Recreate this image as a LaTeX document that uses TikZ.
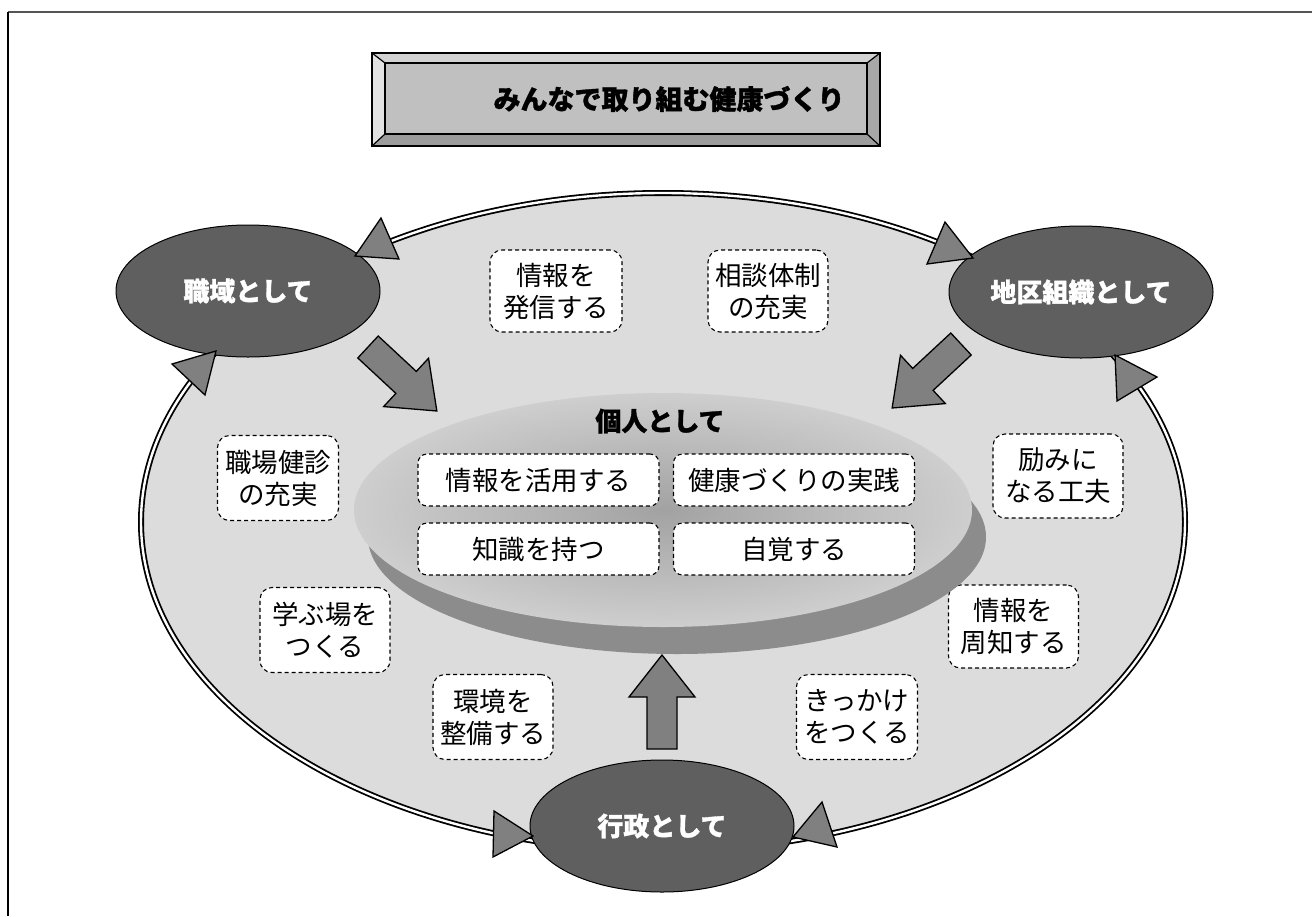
\documentclass[tikz,border=0pt]{standalone}
\usepackage{fontspec}
\setmainfont{Noto Sans CJK JP}
\newfontfamily\heavyfont{Noto Sans CJK JP}[BoldFeatures={FakeBold=1.2}]
\usetikzlibrary{shapes.geometric}
\definecolor{ringfill}{HTML}{DCDCDC}
\definecolor{darkell}{HTML}{5F5F5F}
\definecolor{arrowgray}{HTML}{808080}
\definecolor{framegray}{HTML}{555555}
\definecolor{bevtop}{HTML}{D2D2D2}
\definecolor{bevleft}{HTML}{E2E2E2}
\definecolor{bevbottom}{HTML}{9C9C9C}
\definecolor{bevright}{HTML}{A8A8A8}
\definecolor{titlefill}{HTML}{C0C0C0}
\definecolor{diskin}{HTML}{A2A2A2}
\definecolor{diskout}{HTML}{CECECE}
\definecolor{diskshade}{HTML}{8C8C8C}
\tikzset{
  ringstyle/.style={ellipse, draw=black, double=white, line width=1.8pt, double distance=2.4pt, fill=ringfill, minimum width=1044pt, minimum height=658pt, inner sep=0pt},
  actor/.style={ellipse, draw=black, line width=1pt, fill=darkell, minimum width=264pt, minimum height=132pt, inner sep=0pt, text=white, font=\fontsize{26pt}{30pt}\selectfont\heavyfont\bfseries},
  headtri/.style={draw=black, line width=1.3pt, fill=arrowgray, line join=miter},
  tipbox/.style={draw=black, dash pattern=on 4pt off 3pt, line width=1.1pt, fill=white, rounded corners=12pt, align=center, inner sep=0pt, font=\fontsize{26.5pt}{32pt}\selectfont},
  innerbox/.style={tipbox, minimum width=241pt, minimum height=52pt, rounded corners=9pt},
  bevelline/.style={draw=black, line width=1.2pt},
  blockarrow/.pic={\draw[fill=arrowgray, line width=1.3pt, line join=miter] (0,-15)--(52,-15)--(52,-33)--(94,0)--(52,33)--(52,15)--(0,15)--cycle;}
}
\begin{document}
\begin{tikzpicture}[x=1pt,y=-1pt]
\useasboundingbox (0,0) rectangle (1312,916);
% frame
\draw[line width=2pt, framegray] (8,12) -- (1312,12);
\draw[line width=2pt, black] (8,12) -- (8,916);
% title box with bevel
\fill[bevtop] (372,53) -- (880,53) -- (867,63) -- (385,63) -- cycle;
\fill[bevleft] (372,53) -- (385,63) -- (385,134) -- (372,146) -- cycle;
\fill[bevbottom] (372,146) -- (385,134) -- (867,134) -- (880,146) -- cycle;
\fill[bevright] (880,53) -- (880,146) -- (867,134) -- (867,63) -- cycle;
\draw[bevelline] (372,53) rectangle (880,146);
\draw[bevelline] (372,53) -- (385,63) (880,53) -- (867,63) (372,146) -- (385,134) (880,146) -- (867,134);
\node[draw=black, line width=1.2pt, fill=titlefill, minimum width=482pt, minimum height=71pt, inner sep=0pt] (title) at (626,98.5) {};
\node[font=\fontsize{27pt}{30pt}\selectfont\heavyfont\bfseries, inner sep=0pt] (titletext) at (669,99) {みんなで取り組む健康づくり};
% ring
\node[ringstyle] (ring) at (663,522) {};
% outer tip boxes
\node[tipbox, minimum width=132pt, minimum height=82pt] (b1) at (556,291) {情報を\\発信する};
\node[tipbox, minimum width=120pt, minimum height=82pt] (b2) at (768,291) {相談体制\\の充実};
\node[tipbox, minimum width=121pt, minimum height=85pt] (b3) at (278,478) {職場健診\\の充実};
\node[tipbox, minimum width=130pt, minimum height=84pt] (b4) at (1058,476) {励みに\\なる工夫};
\node[tipbox, minimum width=130pt, minimum height=85pt] (b5) at (325,630) {学ぶ場を\\つくる};
\node[tipbox, minimum width=130pt, minimum height=83pt] (b6) at (1013.5,626.5) {情報を\\周知する};
\node[tipbox, minimum width=120pt, minimum height=85pt] (b7) at (493,717) {環境を\\整備する};
\node[tipbox, minimum width=121pt, minimum height=85pt] (b8) at (857,717) {きっかけ\\をつくる};
% central disk
\node[ellipse, fill=diskshade, minimum width=618pt, minimum height=234pt, inner sep=0pt] (diskback) at (677,537) {};
\node[ellipse, shading=radial, inner color=diskin, outer color=diskout, minimum width=618pt, minimum height=234pt, inner sep=0pt] (disk) at (663,510) {};
\node[font=\fontsize{26pt}{30pt}\selectfont\heavyfont\bfseries, inner sep=0pt] (kojin) at (660,421) {個人として};
\node[innerbox] (c1) at (538.5,480) {情報を活用する};
\node[innerbox] (c2) at (794,480) {健康づくりの実践};
\node[innerbox] (c3) at (538.5,549) {知識を持つ};
\node[innerbox] (c4) at (794,549) {自覚する};
% block arrows toward the individual
\pic[rotate=-42.9] at (368,347) {blockarrow};
\pic[rotate=222.9] at (961,344) {blockarrow};
\pic[rotate=90] at (662,749) {blockarrow};
% actors
\node[actor] (shoku) at (248,291) {職域として};
\node[actor] (chiku) at (1081,292) {地区組織として};
\node[actor] (gyosei) at (662,826) {行政として};
% ring arrowheads
\draw[headtri] (355,256) -- (381,218) -- (399,259) -- cycle;
\draw[headtri] (973,258) -- (945,222) -- (927,264) -- cycle;
\draw[headtri] (1115,355) -- (1157,377) -- (1117,401) -- cycle;
\draw[headtri] (793,837) -- (822,802) -- (837,847) -- cycle;
\draw[headtri] (533,836) -- (494,811) -- (493,857) -- cycle;
\draw[headtri] (216,351) -- (172,364) -- (205,395) -- cycle;
\end{tikzpicture}
\end{document}
